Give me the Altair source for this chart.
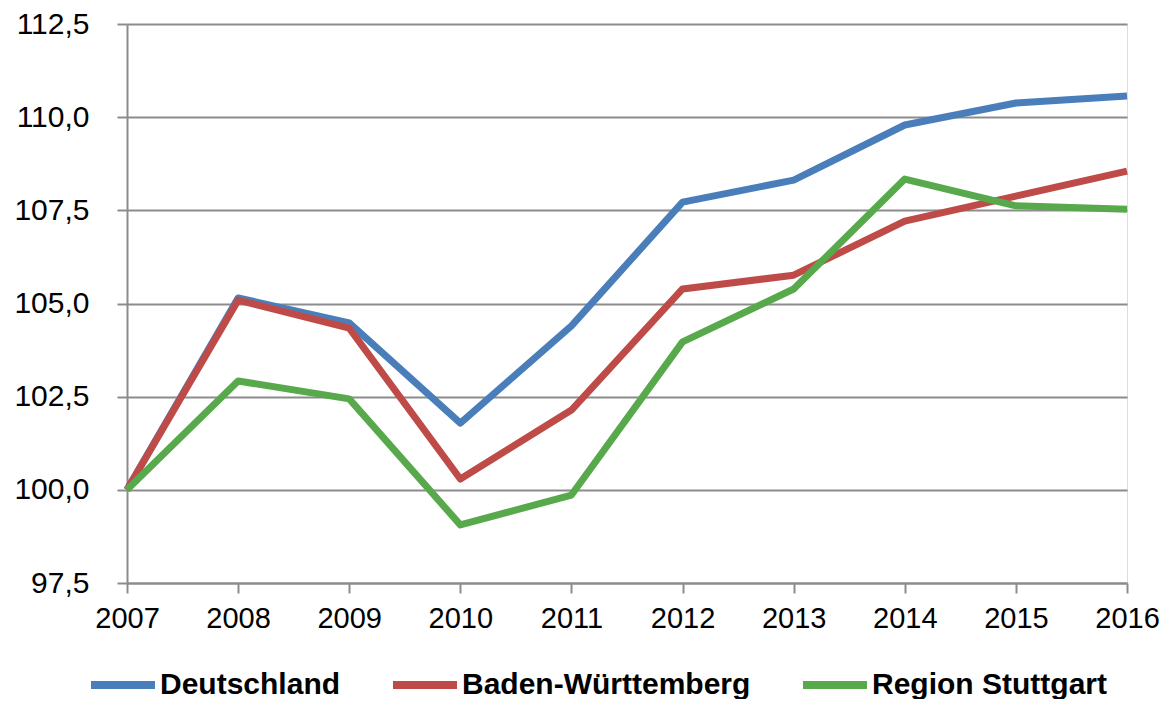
import altair as alt
import pandas as pd

years = [2007, 2008, 2009, 2010, 2011, 2012, 2013, 2014, 2015, 2016]
deutschland = [100.0, 105.15, 104.48, 101.79, 104.4, 107.72, 108.31, 109.79, 110.38, 110.57]
baden_wuerttemberg = [100.0, 105.09, 104.34, 100.29, 102.14, 105.39, 105.76, 107.21, 107.88, 108.55]
region_stuttgart = [100.0, 102.92, 102.44, 99.06, 99.86, 103.97, 105.39, 108.34, 107.62, 107.53]

series_names = ["Deutschland", "Baden-Württemberg", "Region Stuttgart"]
series_colors = ["#4a7ebb", "#be4b48", "#58a94c"]

rows = []
for name, vals in zip(series_names, [deutschland, baden_wuerttemberg, region_stuttgart]):
    for y, v in zip(years, vals):
        rows.append({"Jahr": y, "Wert": v, "Reihe": name})
df = pd.DataFrame(rows)

grid_color = "#8c8c8c"
font = "Liberation Sans"

chart = alt.Chart(df).mark_line(strokeWidth=7, strokeCap="butt", strokeJoin="round").encode(
    x=alt.X("Jahr:Q",
            scale=alt.Scale(domain=[2007, 2016], nice=False, zero=False),
            axis=alt.Axis(values=years, format="d", grid=False, title=None,
                          labelFontSize=29, labelFont=font, labelColor="#000000",
                          labelPadding=11, tickSize=10, tickColor=grid_color, tickWidth=2,
                          domainColor=grid_color, domainWidth=2, labelFlush=False)),
    y=alt.Y("Wert:Q",
            scale=alt.Scale(domain=[97.5, 112.5], nice=False, zero=False),
            axis=alt.Axis(values=[97.5, 100, 102.5, 105, 107.5, 110, 112.5],
                          labelExpr="replace(format(datum.value, '.1f'), '.', ',')",
                          grid=True, gridColor=grid_color, gridWidth=2, title=None,
                          labelFontSize=30, labelFont=font, labelColor="#000000",
                          labelPadding=28, tickSize=10, tickColor=grid_color, tickWidth=2,
                          domainColor=grid_color, domainWidth=2)),
    color=alt.Color("Reihe:N",
                    scale=alt.Scale(domain=series_names, range=series_colors),
                    sort=series_names,
                    legend=alt.Legend(orient="none", legendX=-40, legendY=625, direction="horizontal",
                                      title=None, symbolType="stroke", symbolSize=4096,
                                      symbolStrokeWidth=8, labelFontSize=30, labelFont=font,
                                      labelFontWeight="bold", labelColor="#000000", labelOffset=1,
                                      labelLimit=0, columnPadding=36, padding=0, symbolOffset=0)),
).properties(
    width=1000, height=559,
    autosize=alt.AutoSizeParams(type="none"),
    padding={"left": 119, "top": 16, "right": 32, "bottom": 116},
).configure_view(stroke=None).configure(background="white")

chart.save("out.html", embed_options={"renderer": "svg", "actions": False})
